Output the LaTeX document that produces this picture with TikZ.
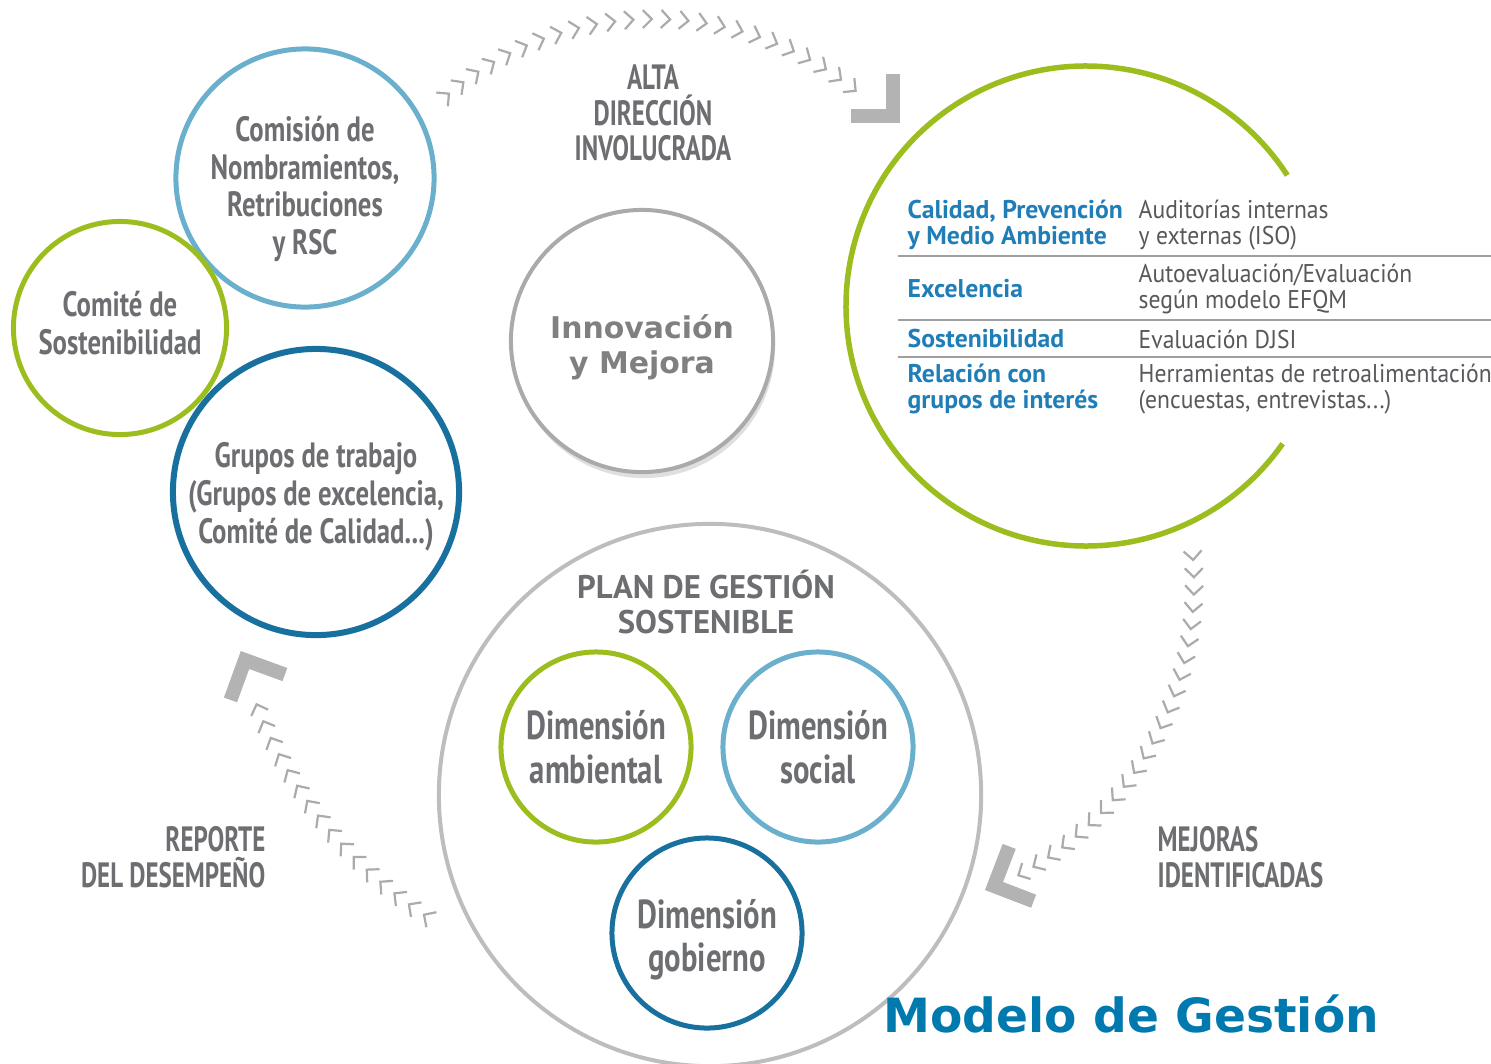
\documentclass[tikz,border=0pt]{standalone}
\usepackage{xcolor}
\usepackage{fontspec}
\setmainfont{PT Sans}
\newfontfamily\condfont[FakeStretch=0.76]{PT Sans}
\newfontfamily\labfont[FakeStretch=0.71]{PT Sans}
\newfontfamily\tabfont[FakeStretch=0.92]{PT Sans}
\newfontfamily\verdfont{DejaVu Sans}
\definecolor{mggreen}{HTML}{9BBE1E}
\definecolor{mglight}{HTML}{6AB0CC}
\definecolor{mgdark}{HTML}{17709E}
\definecolor{mgtext}{HTML}{6D6E71}
\definecolor{mgring}{HTML}{BDBDBD}
\definecolor{mgchev}{HTML}{ABABAB}
\definecolor{mgtab}{HTML}{1F7EB8}
\definecolor{mgtitle}{HTML}{0079AF}
\usetikzlibrary{positioning, shadows}

\begin{document}
\begin{tikzpicture}[
    x=0.01cm, y=0.01cm,
    organ/.style={circle, draw, line width=0.05cm, inner sep=0pt, align=center, text=mgtext,
        font=\condfont\bfseries\fontsize{10}{10.7}\selectfont},
    dimension/.style={organ, minimum size=1.9cm, font=\condfont\bfseries\fontsize{11.5}{12.5}\selectfont},
    hub/.style={circle, draw=mgring!90!black, line width=0.04cm, fill=white, inner sep=0pt,
        minimum size=2.62cm, align=center, text=black!50,
        drop shadow={shadow xshift=0.02cm, shadow yshift=-0.06cm, opacity=0.25},
        font=\verdfont\bfseries\fontsize{8.5}{10}\selectfont},
    cyclelabel/.style={align=center, inner sep=0pt, text=mgtext, font=\labfont\bfseries\fontsize{10}{10.1}\selectfont},
    tabkey/.style={anchor=west, align=left, inner sep=0pt, text=mgtab,
        font=\bfseries\fontsize{7.3}{7.4}\selectfont},
    tabval/.style={anchor=west, align=left, inner sep=0pt, text=mgtext!80!black,
        font=\tabfont\fontsize{7.3}{7.4}\selectfont},
    tabrule/.style={draw=gray!75, line width=0.02cm},
    chev/.style={draw=mgchev, line width=0.022cm},
    bighead/.style={draw=mgchev!90, line width=0.14cm, miter limit=10}
]
\useasboundingbox (0,0) rectangle (1491,-1063);

% organos de gobierno
\node[organ, draw=mglight, minimum size=2.58cm, text height=45.5pt] (comision) at (305,-178) {Comisión de\\Nombramientos,\\Retribuciones\\y RSC};
\node[organ, draw=mgdark, line width=0.06cm, minimum size=2.86cm, text height=31.3pt] (grupos) at (316,-492) {Grupos de trabajo\\(Grupos de excelencia,\\Comité de Calidad...)};
\node[organ, draw=mggreen, minimum size=2.13cm, text height=15pt] (comite) at (120,-328) {Comité de\\Sostenibilidad};

\node[hub, text height=20.4pt] (innova) at (642,-341) {Innovación\\y Mejora};

% plan de gestion
\node[circle, draw=mgring, line width=0.04cm, minimum size=5.42cm] (plan) at (710,-795) {};
\node[align=center, text=mgtext, font=\bfseries\fontsize{9.3}{10}\selectfont] (plantitle) at (706,-602) {PLAN DE GESTIÓN\\SOSTENIBLE};
\node[dimension, draw=mggreen] (ambiental) at (596,-747) {Dimensión\\ambiental};
\node[dimension, draw=mglight] (social) at (818,-747) {Dimensión\\social};
\node[dimension, draw=mgdark, text height=24.6pt] (gobierno) at (707,-933) {Dimensión\\gobierno};

% evaluacion
\draw[mggreen, line width=0.055cm] (1086,-306) ++(33:240) arc[start angle=33, end angle=325, radius=240];
\node[tabkey] (calidad) at (907,-225) {Calidad, Prevención\\y Medio Ambiente};
\node[tabval] (auditorias) at (1138,-225) {Auditorías internas\\y externas (ISO)};
\node[tabkey] (excelencia) at (907,-289) {Excelencia};
\node[tabval] (efqm) at (1138,-289) {Autoevaluación/Evaluación\\según modelo EFQM};
\node[tabkey] (sosten) at (907,-339) {Sostenibilidad};
\node[tabval] (djsi) at (1138,-339) {Evaluación DJSI};
\node[tabkey] (relacion) at (907,-389) {Relación con\\grupos de interés};
\node[tabval] (herram) at (1138,-389) {Herramientas de retroalimentación\\(encuestas, entrevistas...)};
\foreach \y in {256,320,357}
  \draw[tabrule] (898,-\y) -- (1491,-\y);

% flechas del ciclo
\foreach \a in {130,126.7,...,50}
  \draw[chev, shift={({654+319*cos(\a)},{-338+319*sin(\a)})}, rotate=\a-90] (-9,9) -- (0,0) -- (-9,-9);
\draw[bighead, shift={(893,-116)}, rotate=-45] (-30,30) -- (0,0) -- (-30,-30);

\foreach \a in {4,1,...,-62}
  \draw[chev, shift={({863+331*cos(\a)},{-583+331*sin(\a)})}, rotate=\a-90] (-9,9) -- (0,0) -- (-9,-9);
\draw[bighead, shift={(994,-886)}, rotate=-156] (-30,30) -- (0,0) -- (-30,-30);

\foreach \a in {236.5,234.1,...,200}
  \draw[chev, shift={({664+435*cos(\a)},{-552+435*sin(\a)})}, rotate=\a-90] (-9,9) -- (0,0) -- (-9,-9);
\draw[bighead, shift={(245,-660)}, rotate=115] (-30,30) -- (0,0) -- (-30,-30);

\node[cyclelabel] (alta) at (653,-113) {ALTA\\DIRECCIÓN\\INVOLUCRADA};
\node[cyclelabel, anchor=east, align=right] (reporte) at (266,-857) {REPORTE\\DEL DESEMPEÑO};
\node[cyclelabel, anchor=west, align=left] (mejoras) at (1157,-857) {MEJORAS\\IDENTIFICADAS};

\node[anchor=base west, inner sep=0pt, text=mgtitle, font=\verdfont\bfseries\fontsize{13.4}{16}\selectfont] (titulo) at (883,-1032) {Modelo de Gestión};

\end{tikzpicture}
\end{document}
